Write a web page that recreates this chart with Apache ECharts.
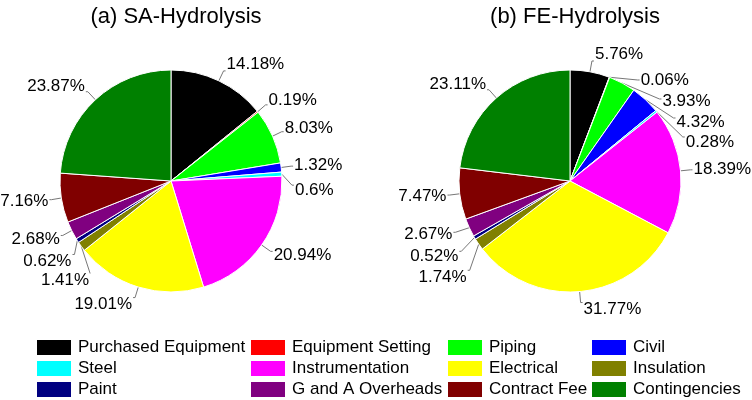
<!DOCTYPE html>
<html>
<head>
<meta charset="utf-8">
<script src="https://cdn.jsdelivr.net/npm/echarts@6/dist/echarts.min.js"></script>
<style>
  html, body { margin: 0; padding: 0; background: #fff; }
  #main { width: 752px; height: 400px; }
</style>
</head>
<body>
<div id="main"></div>
<script>
var categories = ['Purchased Equipment', 'Equipment Setting', 'Piping', 'Civil',
  'Steel', 'Instrumentation', 'Electrical', 'Insulation',
  'Paint', 'G and A Overheads', 'Contract Fee', 'Contingencies'];
var saValues = [14.18, 0.19, 8.03, 1.32, 0.6, 20.94, 19.01, 1.41, 0.62, 2.68, 7.16, 23.87];
var feValues = [5.76, 0.06, 3.93, 4.32, 0.28, 18.39, 31.77, 1.74, 0.52, 2.67, 7.47, 23.11];
var titles = ['(a) SA-Hydrolysis', '(b) FE-Hydrolysis'];
var colors = ['#000000', '#ff0000', '#00ff00', '#0000ff', '#00ffff', '#ff00ff',
  '#ffff00', '#808000', '#000080', '#800080', '#800000', '#008000'];

var font = 'Liberation Sans, Arial, sans-serif';
var pieY = 181;

var toData = function (values) {
  return values.map(function (v, i) {
    return { name: categories[i], value: v };
  });
};

// nudge labels up/down so the text sits at the corner of the leader line
var nudgeLabel = function (params) {
  var pts = params.labelLinePoints;
  if (!pts) return {};
  var dx = pts[1][0] - pts[0][0];
  var dy = pts[1][1] - pts[0][1];
  var len = Math.sqrt(dx * dx + dy * dy) || 1;
  return { dy: 7 * dy / len };
};

var makePie = function (values, cx) {
  return {
    type: 'pie',
    center: [cx, pieY],
    radius: 111,
    startAngle: 90,
    clockwise: true,
    animation: false,
    avoidLabelOverlap: true,
    itemStyle: { borderColor: '#fff', borderWidth: 1 },
    label: {
      formatter: '{c}%',
      color: '#000',
      fontFamily: font,
      fontSize: 17,
      lineHeight: 13,
      overflow: 'none',
      distanceToLabelLine: 1
    },
    labelLine: {
      length: 11,
      length2: 2,
      lineStyle: { color: '#777', width: 1 }
    },
    labelLayout: nudgeLabel,
    emphasis: { disabled: true },
    data: toData(values)
  };
};

// legend columns: 3 items each, row-wise order across 4 columns
var legendLefts = [35, 249, 446, 590];
var legends = legendLefts.map(function (left, col) {
  return {
    orient: 'vertical',
    left: left,
    top: 338,
    height: 100,
    padding: 0,
    itemWidth: 36,
    itemHeight: 17,
    itemGap: 2,
    icon: 'rect',
    selectedMode: false,
    textStyle: { fontFamily: font, fontSize: 17, lineHeight: 17, color: '#000', padding: [0, 0, 0, 1] },
    data: [categories[col], categories[col + 4], categories[col + 8]]
  };
});

var chart = echarts.init(document.getElementById('main'));
chart.setOption({
  color: colors,
  backgroundColor: '#fff',
  title: [
    { text: titles[0], left: 171, top: 1, textAlign: 'center',
      textStyle: { fontFamily: font, fontSize: 22, fontWeight: 'normal', color: '#000' } },
    { text: titles[1], left: 570, top: 1, textAlign: 'center',
      textStyle: { fontFamily: font, fontSize: 22, fontWeight: 'normal', color: '#000' } }
  ],
  legend: legends,
  series: [makePie(saValues, 171), makePie(feValues, 570)]
});
</script>
</body>
</html>
